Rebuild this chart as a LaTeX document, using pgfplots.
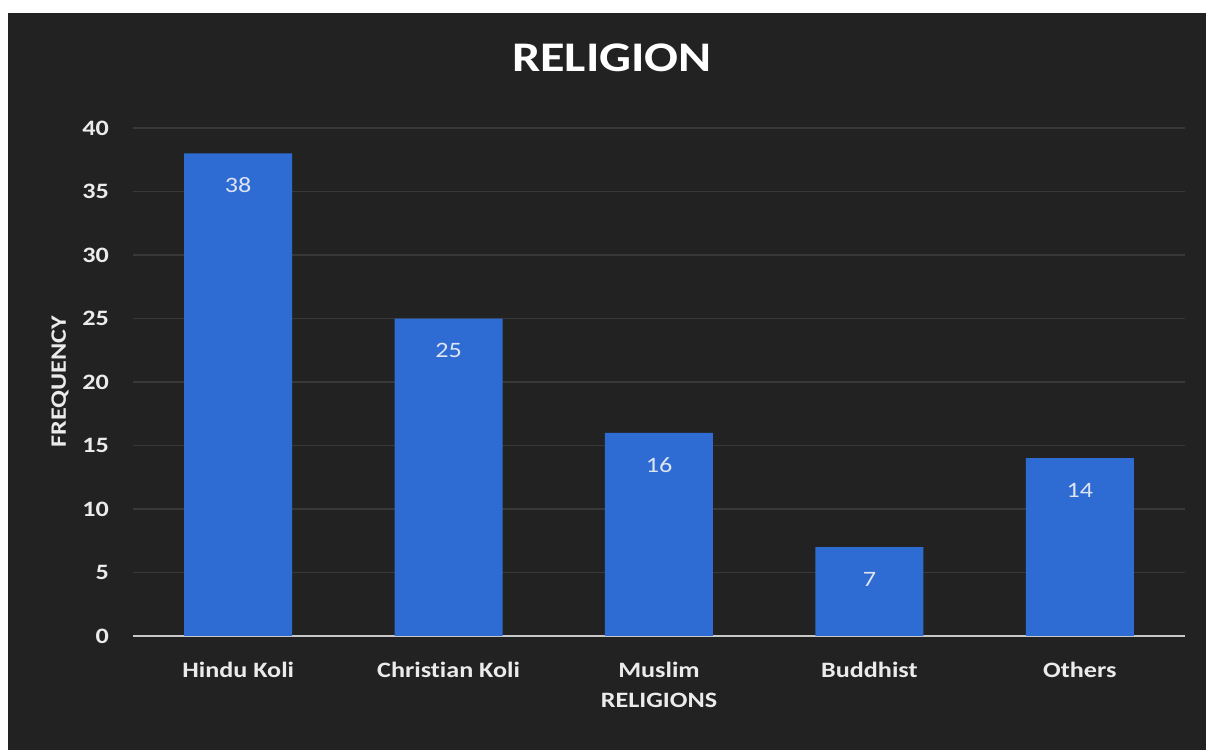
\documentclass[border=0pt]{standalone}
\usepackage{fontspec}
\setmainfont{Carlito}[FakeStretch=1.19, Ligatures=NoCommon]
\usepackage{pgfplots}
\pgfplotsset{compat=1.18}
\definecolor{bg}{RGB}{34,34,34}
\definecolor{barblue}{RGB}{46,108,212}
\definecolor{gridc}{RGB}{56,56,56}
\definecolor{txt}{RGB}{235,235,235}
\definecolor{vlab}{RGB}{222,228,240}
\begin{document}
\begin{tikzpicture}
\useasboundingbox (0,0) rectangle (24.12,15.12);
\fill[white] (0,0) rectangle (24.12,15.12);
\fill[bg] (0.16,0.12) rectangle (24.12,14.86);
\node[font=\bfseries\fontsize{24}{28}\selectfont, text=white] at (12.24,13.96) {RELIGION};
\begin{axis}[
  at={(2.66cm,2.40cm)}, anchor=south west,
  scale only axis, width=21.04cm, height=10.16cm,
  ymin=0, ymax=40, xmin=-0.5, xmax=4.5,
  ytick={0,5,...,40}, xtick={0,1,2,3,4},
  xticklabels={Hindu Koli,Christian Koli,Muslim,Buddhist,Others},
  axis x line*=bottom, axis y line*=left,
  y axis line style={draw=none},
  x axis line style={draw=txt!85!black, line width=1.2pt},
  tick style={draw=none},
  ymajorgrids, grid style={gridc, line width=0.8pt},
  /pgf/number format/assume math mode=true,
  yticklabel style={font=\bfseries\fontsize{12.5}{15}\selectfont, text=txt, xshift=-0.36cm},
  xticklabel style={font=\bfseries\fontsize{12.5}{15}\selectfont, text=txt, yshift=-0.25cm},
  xlabel={RELIGIONS}, ylabel={FREQUENCY},
  xlabel style={at={(axis description cs:0.5,-0.126)}, anchor=center, font=\bfseries\fontsize{12.5}{15}\selectfont, text=txt},
  ylabel style={at={(axis description cs:-0.0694,0.5)}, anchor=center, font=\bfseries\fontsize{12.5}{15}\selectfont, text=txt},
  ybar, bar width=2.16cm,
  nodes near coords,
  every node near coord/.append style={anchor=center, yshift=-0.64cm, font=\fontsize{12.5}{15}\selectfont, text=vlab},
]
\addplot[fill=barblue, draw=none] coordinates {(0,38) (1,25) (2,16) (3,7) (4,14)};
\end{axis}
\end{tikzpicture}
\end{document}
